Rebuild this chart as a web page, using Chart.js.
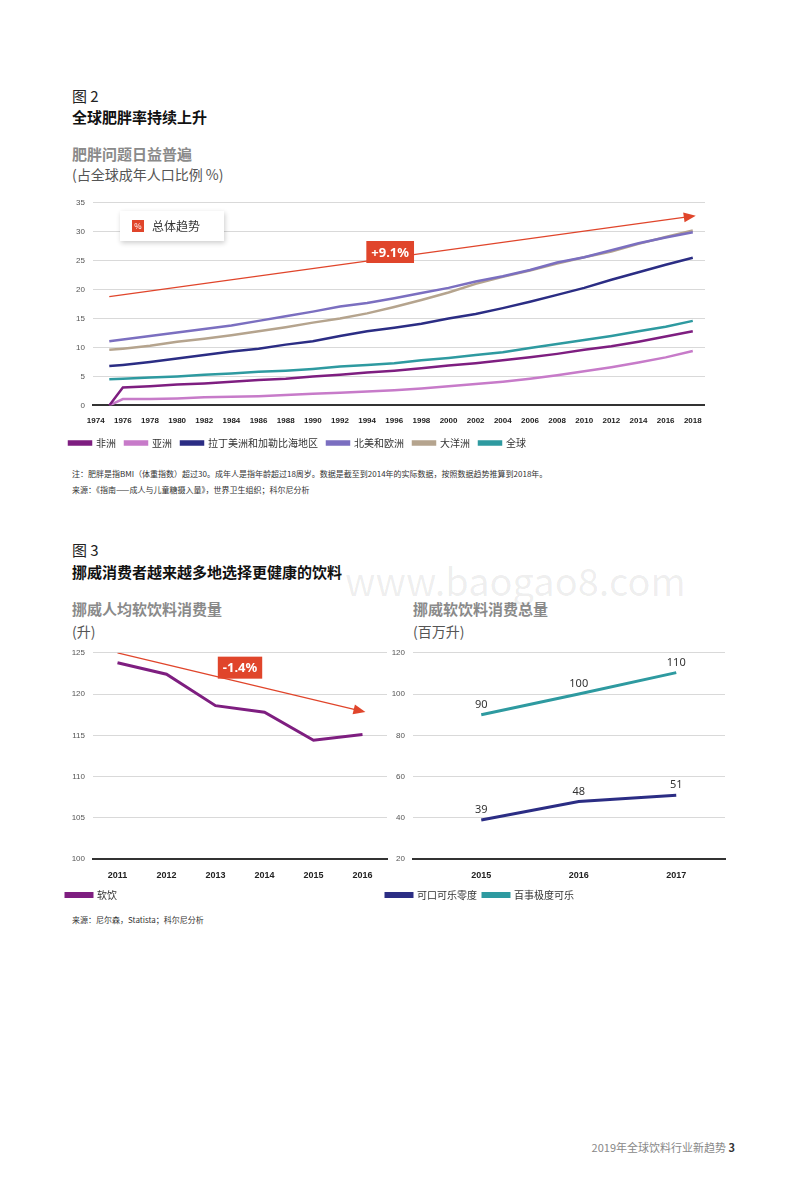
<!DOCTYPE html>
<html><head><meta charset="utf-8">
<script src="https://cdn.jsdelivr.net/npm/chart.js@4"></script>
<style>
body{margin:0;width:800px;height:1179px;background:#fff;font-family:"Noto Sans CJK SC","Noto Sans",sans-serif;position:relative;color:#222;overflow:hidden}
.t{position:absolute;white-space:nowrap}
.fig{font-size:15px;color:#222}
.ttl{font-size:15px;font-weight:bold;color:#111}
.sub{font-size:15px;font-weight:bold;color:#8a8a8a}
.unit{font-size:14px;color:#555}
.note{font-size:8px;color:#333}
.cv{position:absolute}
</style></head><body>
<div class="t fig" style="left:72px;top:85px">图 2</div>
<div class="t ttl" style="left:72px;top:106px">全球肥胖率持续上升</div>
<div class="t sub" style="left:72px;top:143px">肥胖问题日益普遍</div>
<div class="t unit" style="left:72px;top:164px">(占全球成年人口比例 %)</div>
<div class="cv" style="left:60px;top:190px;width:645px;height:268px"><canvas id="c1"></canvas></div>
<div class="t" style="left:120px;top:211px;width:104px;height:30px;background:#fff;box-shadow:1px 2px 5px rgba(0,0,0,0.2)">
 <span style="position:absolute;left:12px;top:9px;width:12px;height:12px;background:#e0452b;color:#fff;font-size:8px;text-align:center;line-height:12px">%</span>
 <span style="position:absolute;left:32px;top:6px;font-size:12px;color:#333">总体趋势</span></div>
<div class="t note" style="left:72px;top:468px">注：肥胖是指BMI（体重指数）超过30。成年人是指年龄超过18周岁。数据是截至到2014年的实际数据，按照数据趋势推算到2018年。</div>
<div class="t note" style="left:72px;top:484px">来源：《指南——成人与儿童糖摄入量》，世界卫生组织；科尔尼分析</div>

<div class="t fig" style="left:72px;top:539px">图 3</div>
<div class="t ttl" style="left:72px;top:561px">挪威消费者越来越多地选择更健康的饮料</div>
<div class="t" style="left:345px;top:552px;font-size:38px;color:rgba(0,0,0,0.07)">www.baogao8.com</div>
<div class="t sub" style="left:72px;top:598px">挪威人均软饮料消费量</div>
<div class="t unit" style="left:72px;top:621px">(升)</div>
<div class="t sub" style="left:413px;top:598px">挪威软饮料消费总量</div>
<div class="t unit" style="left:413px;top:621px">(百万升)</div>
<div class="cv" style="left:60px;top:640px;width:332px;height:270px"><canvas id="c3"></canvas></div>
<div class="cv" style="left:380px;top:640px;width:350px;height:270px"><canvas id="c4"></canvas></div>
<div class="t note" style="left:72px;top:914px">来源：尼尔森，Statista；科尔尼分析</div>
<div class="t" style="right:65px;top:1139px;font-size:11px;color:#888">2019年全球饮料行业新趋势 <b style="color:#333">3</b></div>
<script>
// 图2 数据
const years = [1975,1976,1978,1980,1982,1984,1986,1988,1990,1992,1994,1996,1998,2000,2002,2004,2006,2008,2010,2012,2014,2016,2018];
const africa = [0,3.1,3.3,3.6,3.8,4.1,4.4,4.6,5.0,5.3,5.7,6.0,6.4,6.9,7.3,7.8,8.3,8.9,9.6,10.2,11.0,11.9,12.8];
const asia = [0,1.1,1.1,1.2,1.4,1.5,1.6,1.8,2.0,2.2,2.4,2.6,2.9,3.3,3.7,4.1,4.6,5.2,5.9,6.6,7.4,8.3,9.4];
const latam = [6.8,7.0,7.5,8.1,8.7,9.3,9.8,10.5,11.1,12.0,12.8,13.4,14.1,15.0,15.8,16.8,17.9,19.1,20.3,21.7,23.0,24.3,25.5];
const naEurope = [11.1,11.4,12.0,12.6,13.2,13.8,14.6,15.4,16.2,17.1,17.7,18.5,19.4,20.3,21.4,22.3,23.4,24.7,25.6,26.8,28.0,29.0,29.9];
const oceania = [9.6,9.8,10.3,11.0,11.5,12.1,12.8,13.5,14.3,15.0,15.9,17.0,18.2,19.5,21.0,22.2,23.3,24.5,25.6,26.6,27.9,29.1,30.2];
const world = [4.5,4.6,4.8,5.0,5.3,5.5,5.8,6.0,6.3,6.7,7.0,7.3,7.8,8.2,8.7,9.2,9.9,10.6,11.3,12.0,12.8,13.6,14.6];
const trend1 = [{x:1975,y:18.8},{x:2018,y:32.7}];
const tickYears = [];
for (let y = 1974; y <= 2018; y += 2) tickYears.push(y);

// 图3 数据
const yrs3 = [2011,2012,2013,2014,2015,2016];
const softDrink = [123.8,122.4,118.6,117.8,114.4,115.1];
const trend3 = [{x:2011,y:125},{x:2016,y:117.9}];
const yrs4 = [2015,2016,2017];
const cokeZero = [39,48,51];
const pepsiMax = [90,100,110.4];
const pepsiLabels = ['90','100','110'];

const RED = '#e0452b';
const gridC = '#d9d9d9';

function zip(xs, ys) { return xs.map((x, i) => ({x: x, y: ys[i]})); }

// 箭头 + 百分比标签
const arrowPlugin = {
  id: 'arrow',
  afterDatasetsDraw(chart, args, opts) {
    const ctx = chart.ctx;
    const meta = chart.getDatasetMeta(opts.index);
    const p = meta.data[meta.data.length - 1], q = meta.data[meta.data.length - 2];
    const a = Math.atan2(p.y - q.y, p.x - q.x);
    ctx.save();
    ctx.fillStyle = RED;
    ctx.beginPath();
    ctx.moveTo(p.x + 3 * Math.cos(a), p.y + 3 * Math.sin(a));
    ctx.lineTo(p.x - 9 * Math.cos(a) + 5 * Math.sin(a), p.y - 9 * Math.sin(a) - 5 * Math.cos(a));
    ctx.lineTo(p.x - 9 * Math.cos(a) - 5 * Math.sin(a), p.y - 9 * Math.sin(a) + 5 * Math.cos(a));
    ctx.fill();
    const lx = chart.scales.x.getPixelForValue(opts.lx), ly = chart.scales.y.getPixelForValue(opts.ly);
    ctx.font = 'bold 13px "Noto Sans", sans-serif';
    const w = ctx.measureText(opts.text).width + 10;
    ctx.fillRect(lx - w / 2, ly - 11, w, 22);
    ctx.fillStyle = '#fff';
    ctx.textAlign = 'center'; ctx.textBaseline = 'middle';
    ctx.fillText(opts.text, lx, ly + 1);
    ctx.restore();
  }
};

const labelPlugin = {
  id: 'ptlabels',
  afterDatasetsDraw(chart, args, opts) {
    if (!opts.sets) return;
    const ctx = chart.ctx;
    ctx.save();
    ctx.font = '11px "Noto Sans", sans-serif';
    ctx.fillStyle = '#333';
    ctx.textAlign = 'center';
    opts.sets.forEach(s => {
      chart.getDatasetMeta(s.index).data.forEach((pt, i) => ctx.fillText(s.labels[i], pt.x, pt.y - 10));
    });
    ctx.restore();
  }
};

function line(label, data, color, w) {
  return {label: label, data: data, borderColor: color, backgroundColor: color, borderWidth: w || 2.5, pointRadius: 0, tension: 0};
}

function baseOptions(ymin, ymax, ystep, xmin, xmax, ticks, pad) {
  return {
    responsive: true, maintainAspectRatio: false, animation: false,
    layout: {padding: pad},
    plugins: {
      tooltip: {enabled: false},
      legend: {
        position: 'bottom', align: 'start',
        labels: {boxWidth: 26, boxHeight: 3, color: '#333', font: {size: 10, family: '"Noto Sans CJK SC", sans-serif'}, padding: 6,
          filter: it => it.text !== 'trend'}
      }
    },
    scales: {
      x: {type: 'linear', min: xmin, max: xmax,
        afterBuildTicks: ax => { ax.ticks = ticks.map(v => ({value: v})); },
        grid: {display: false}, border: {color: '#333', width: 2},
        ticks: {color: '#222', font: {size: 9, weight: 'bold'}, maxRotation: 0, autoSkip: false, padding: 3, callback: v => String(v)}},
      y: {min: ymin, max: ymax, ticks: {stepSize: ystep, color: '#555', font: {size: 8}, padding: 8},
        afterFit: ax => { ax.width = 33; },
        grid: {color: gridC, drawTicks: false}, border: {display: false}}
    }
  };
}

const o1 = baseOptions(0, 35, 5, 1973.8, 2018.9, tickYears, {top: 4, right: 0, bottom: 0});
o1.plugins.arrow = {index: 6, lx: 1995.7, ly: 26.5, text: '+9.1%'};
o1.scales.x.ticks.font.size = 8;
o1.plugins.legend.labels.padding = 9;
o1.plugins.legend.labels.boxWidth = 22;
new Chart(document.getElementById('c1'), {
  type: 'line',
  data: {datasets: [
    line('非洲', zip(years, africa), '#7e1e80'),
    line('亚洲', zip(years, asia), '#c77bc9'),
    line('拉丁美洲和加勒比海地区', zip(years, latam), '#2b2d84'),
    line('北美和欧洲', zip(years, naEurope), '#7b6fc0'),
    line('大洋洲', zip(years, oceania), '#b5a48e'),
    line('全球', zip(years, world), '#2e9aa0'),
    line('trend', trend1, RED, 1.2)
  ]},
  options: o1,
  plugins: [arrowPlugin]
});

const o3 = baseOptions(100, 125, 5, 2010.5, 2016.5, yrs3, {top: 7, right: 5, bottom: 0});
o3.plugins.arrow = {index: 1, lx: 2013.5, ly: 123.2, text: '-1.4%'};
new Chart(document.getElementById('c3'), {
  type: 'line',
  data: {datasets: [
    line('软饮', zip(yrs3, softDrink), '#7e1e80', 3),
    line('trend', trend3, RED, 1.2)
  ]},
  options: o3,
  plugins: [arrowPlugin]
});

const o4 = baseOptions(20, 120, 20, 2014.3, 2017.5, yrs4, {top: 7, right: 5, bottom: 0});
o4.plugins.ptlabels = {sets: [{index: 0, labels: cokeZero.map(String)}, {index: 1, labels: pepsiLabels}]};
new Chart(document.getElementById('c4'), {
  type: 'line',
  data: {datasets: [
    line('可口可乐零度', zip(yrs4, cokeZero), '#2b2d84', 3),
    line('百事极度可乐', zip(yrs4, pepsiMax), '#2e9aa0', 3)
  ]},
  options: o4,
  plugins: [labelPlugin]
});
</script>
</body></html>
